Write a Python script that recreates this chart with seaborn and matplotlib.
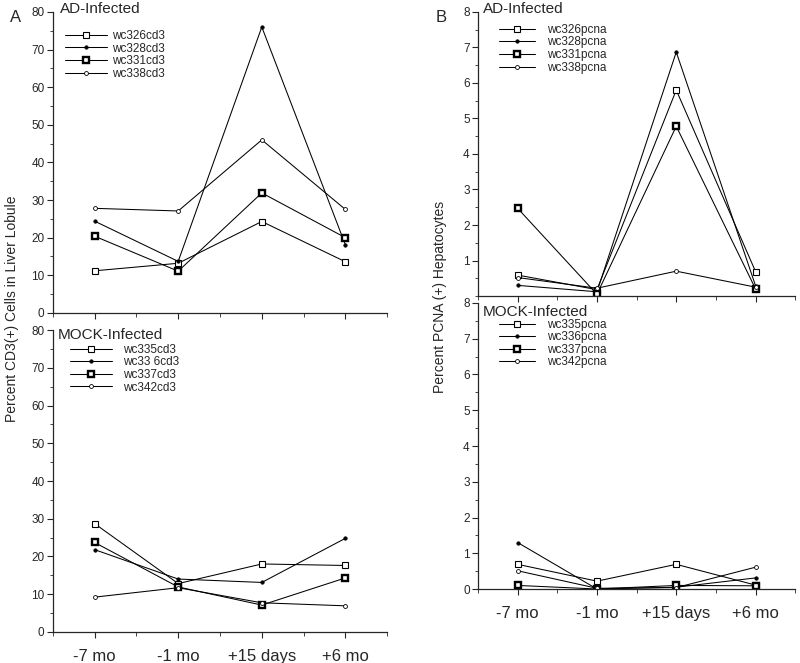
import numpy as np
import pandas as pd
import matplotlib
matplotlib.use("Agg")
import matplotlib.pyplot as plt
import seaborn as sns
from matplotlib.ticker import MultipleLocator

sns.set_style("ticks")
plt.rcParams['font.family'] = ['Liberation Sans', 'DejaVu Sans']

times = ["-7 mo", "-1 mo", "+15 days", "+6 mo"]

# CD3, AD-infected
cd3_ad_names = ["wc326cd3", "wc328cd3", "wc331cd3", "wc338cd3"]
wc326cd3 = [11.2, 13.2, 24.3, 13.6]
wc328cd3 = [24.4, 13.7, 76.0, 18.1]
wc331cd3 = [20.4, 11.1, 31.9, 20.0]
wc338cd3 = [27.8, 27.1, 46.0, 27.5]

# CD3, MOCK-infected
cd3_mock_names = ["wc335cd3", "wc33 6cd3", "wc337cd3", "wc342cd3"]
wc335cd3 = [28.7, 12.8, 18.0, 17.6]
wc336cd3 = [21.8, 14.0, 13.1, 24.8]
wc337cd3 = [23.7, 11.9, 7.1, 14.3]
wc342cd3 = [9.2, 11.7, 7.7, 6.9]

# PCNA, AD-infected
pcna_ad_names = ["wc326pcna", "wc328pcna", "wc331pcna", "wc338pcna"]
wc326pcna = [0.59, 0.18, 5.80, 0.69]
wc328pcna = [0.30, 0.12, 6.87, 0.29]
wc331pcna = [2.47, 0.05, 4.78, 0.20]
wc338pcna = [0.52, 0.22, 0.70, 0.25]

# PCNA, MOCK-infected
pcna_mock_names = ["wc335pcna", "wc336pcna", "wc337pcna", "wc342pcna"]
wc335pcna = [0.69, 0.22, 0.69, 0.11]
wc336pcna = [1.30, 0.00, 0.05, 0.31]
wc337pcna = [0.10, 0.00, 0.10, 0.09]
wc342pcna = [0.51, 0.02, 0.04, 0.61]

styles = [
    dict(marker='s', markersize=4.0, markerfacecolor='white', markeredgewidth=0.8),
    dict(marker='o', markersize=2.5, markerfacecolor='black', markeredgewidth=0.5),
    dict(marker='s', markersize=4.3, markerfacecolor='white', markeredgewidth=1.7),
    dict(marker='o', markersize=2.8, markerfacecolor='white', markeredgewidth=0.6),
]

fig = plt.figure(figsize=(8.0, 6.63), dpi=100)

# rect, title, title xy, names, series, ymax, major, minor, show x labels,
# legend anchor, handlelength, handletextpad, show zero label
panels = [
    ([0.066, 0.528, 0.418, 0.454], "AD-Infected", (0.02, 1.01), cd3_ad_names,
     [wc326cd3, wc328cd3, wc331cd3, wc338cd3], 80, 10, 5, False,
     (0.035, 0.94), 3.6, 0.4, True),
    ([0.066, 0.047, 0.418, 0.455], "MOCK-Infected", (0.015, 0.983), cd3_mock_names,
     [wc335cd3, wc336cd3, wc337cd3, wc342cd3], 80, 10, 5, True,
     (0.05, 0.955), 3.6, 0.9, True),
    ([0.5975, 0.5535, 0.3965, 0.4285], "AD-Infected", (0.016, 1.01), pcna_ad_names,
     [wc326pcna, wc328pcna, wc331pcna, wc338pcna], 8, 1, 0.5, False,
     (0.065, 0.958), 3.1, 1.0, False),
    ([0.5975, 0.1116, 0.3965, 0.4314], "MOCK-Infected", (0.016, 0.97), pcna_mock_names,
     [wc335pcna, wc336pcna, wc337pcna, wc342pcna], 8, 1, 0.5, True,
     (0.065, 0.945), 3.1, 1.0, True),
]

xpos = np.arange(len(times))
for (rect, title, txy, names, series, ymax, major, minor, show_x,
     anchor, hl, htp, zero_lbl) in panels:
    ax = fig.add_axes(rect)
    for name, vals, st in zip(names, series, styles):
        df = pd.DataFrame({"x": xpos, "y": vals})
        sns.lineplot(data=df, x="x", y="y", ax=ax, color='black', linewidth=0.75,
                     markeredgecolor='black', label=name, **st)
    ax.set_xlim(-0.5, 3.5)
    ax.set_ylim(0, ymax)
    ax.yaxis.set_major_locator(MultipleLocator(major))
    ax.yaxis.set_minor_locator(MultipleLocator(minor))
    if not zero_lbl:
        ax.set_yticks(np.arange(major, ymax + major / 2, major))
    ax.set_xticks(xpos)
    ax.set_xticks([-0.5, 0.5, 1.5, 2.5, 3.5], minor=True)
    ax.set_xlabel("")
    ax.set_ylabel("")
    for s in ['top', 'right']:
        ax.spines[s].set_visible(False)
    for s in ['left', 'bottom']:
        ax.spines[s].set_linewidth(0.9)
    ax.tick_params(axis='y', which='major', length=4, width=0.8, labelsize=8.5, pad=2)
    ax.tick_params(axis='y', which='minor', length=2, width=0.6)
    ax.tick_params(axis='x', which='major', length=4, width=0.8, labelsize=12, pad=8)
    ax.tick_params(axis='x', which='minor', length=3, width=0.6)
    if show_x:
        ax.set_xticklabels(times)
    else:
        ax.set_xticklabels([])
    ax.text(txy[0], txy[1], title, transform=ax.transAxes, fontsize=11,
            va='center', ha='left')
    ax.legend(loc='upper left', bbox_to_anchor=anchor, frameon=False,
              fontsize=8.5, handlelength=hl, handletextpad=htp,
              labelspacing=0.05, borderaxespad=0.0, borderpad=0.0)

fig.text(0.012, 0.985, "A", fontsize=12, va='top')
fig.text(0.545, 0.985, "B", fontsize=12, va='top')
fig.text(0.015, 0.535, "Percent CD3(+) Cells in Liver Lobule", rotation=90,
         fontsize=10, va='center', ha='center')
fig.text(0.55, 0.552, "Percent PCNA (+) Hepatocytes", rotation=90,
         fontsize=10, va='center', ha='center')

fig.savefig("out.png", dpi=100, facecolor='white')
